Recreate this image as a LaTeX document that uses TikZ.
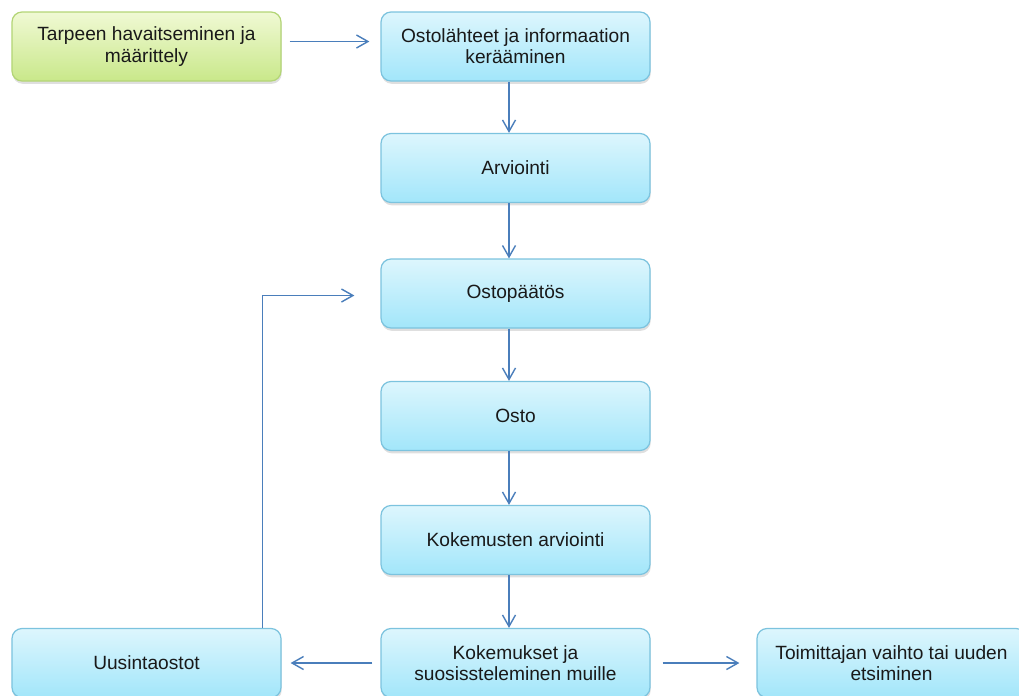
\documentclass[tikz,border=0pt]{standalone}
\usepackage{fontspec}
\setmainfont{Liberation Sans}
\usetikzlibrary{arrows.meta,shadows}
\definecolor{viiva}{HTML}{4A7EBB}
\definecolor{sinireuna}{HTML}{7CC3DE}
\definecolor{siniyla}{HTML}{DDF6FD}
\definecolor{siniala}{HTML}{A2E6FA}
\definecolor{vihreareuna}{HTML}{B3D576}
\definecolor{vihreayla}{HTML}{F0F9D4}
\definecolor{vihreaala}{HTML}{C9E88A}
\begin{document}
\begin{tikzpicture}[
    laatikko/.style={draw=sinireuna, line width=0.7pt, rounded corners=0.2cm,
        top color=siniyla, bottom color=siniala,
        drop shadow={opacity=0.25, shadow xshift=0.4pt, shadow yshift=-1.6pt},
        minimum width=5.38cm, minimum height=1.38cm, align=center,
        text=black!90, font=\fontsize{10.9}{12}\selectfont},
    vihrea/.style={laatikko, draw=vihreareuna, top color=vihreayla, bottom color=vihreaala},
    nuoli/.style={draw=viiva, line width=0.8pt, -{Straight Barb[length=2.3mm,width=2.6mm]}}]
    % Kuvan rajat
    \useasboundingbox (0,0) rectangle (20.38,-13.9);
    \clip (0,0) rectangle (20.38,-13.9);

    % Prosessin vaiheet
    \node[vihrea] (tarve) at (2.93,-0.93) {Tarpeen havaitseminen ja\\määrittely};
    \node[laatikko] (keruu) at (10.31,-0.93) {Ostolähteet ja informaation\\kerääminen};
    \node[laatikko] (arviointi) at (10.31,-3.36) {Arviointi};
    \node[laatikko] (paatos) at (10.31,-5.87) {Ostopäätös};
    \node[laatikko] (osto) at (10.31,-8.32) {Osto};
    \node[laatikko] (kokarv) at (10.31,-10.8) {Kokemusten arviointi};
    \node[laatikko] (kokemukset) at (10.31,-13.26) {Kokemukset ja\\suosissteleminen muille};
    \node[laatikko] (uusinta) at (2.93,-13.26) {Uusintaostot};
    \node[laatikko] (vaihto) at (17.83,-13.26) {Toimittajan vaihto tai uuden\\etsiminen};

    % Nuolet
    \draw[nuoli, shorten <=0.16cm, shorten >=0.22cm] ([yshift=0.1cm]tarve.east) -- ([yshift=0.1cm]keruu.west);
    \draw[nuoli] ([xshift=-0.13cm]keruu.south) -- ([xshift=-0.13cm]arviointi.north);
    \draw[nuoli] ([xshift=-0.13cm]arviointi.south) -- ([xshift=-0.13cm]paatos.north);
    \draw[nuoli] ([xshift=-0.13cm]paatos.south) -- ([xshift=-0.13cm]osto.north);
    \draw[nuoli] ([xshift=-0.13cm]osto.south) -- ([xshift=-0.13cm]kokarv.north);
    \draw[nuoli] ([xshift=-0.13cm]kokarv.south) -- ([xshift=-0.13cm]kokemukset.north);
    \draw[nuoli, shorten <=0.16cm, shorten >=0.18cm] (kokemukset.west) -- (uusinta.east);
    \draw[nuoli, shorten <=0.24cm, shorten >=0.34cm] (kokemukset.east) -- (vaihto.west);

    % Paluu ostopäätökseen
    \draw[nuoli] ([xshift=-0.38cm]uusinta.north east) |- ([xshift=-0.52cm,yshift=-0.04cm]paatos.west);
\end{tikzpicture}
\end{document}
